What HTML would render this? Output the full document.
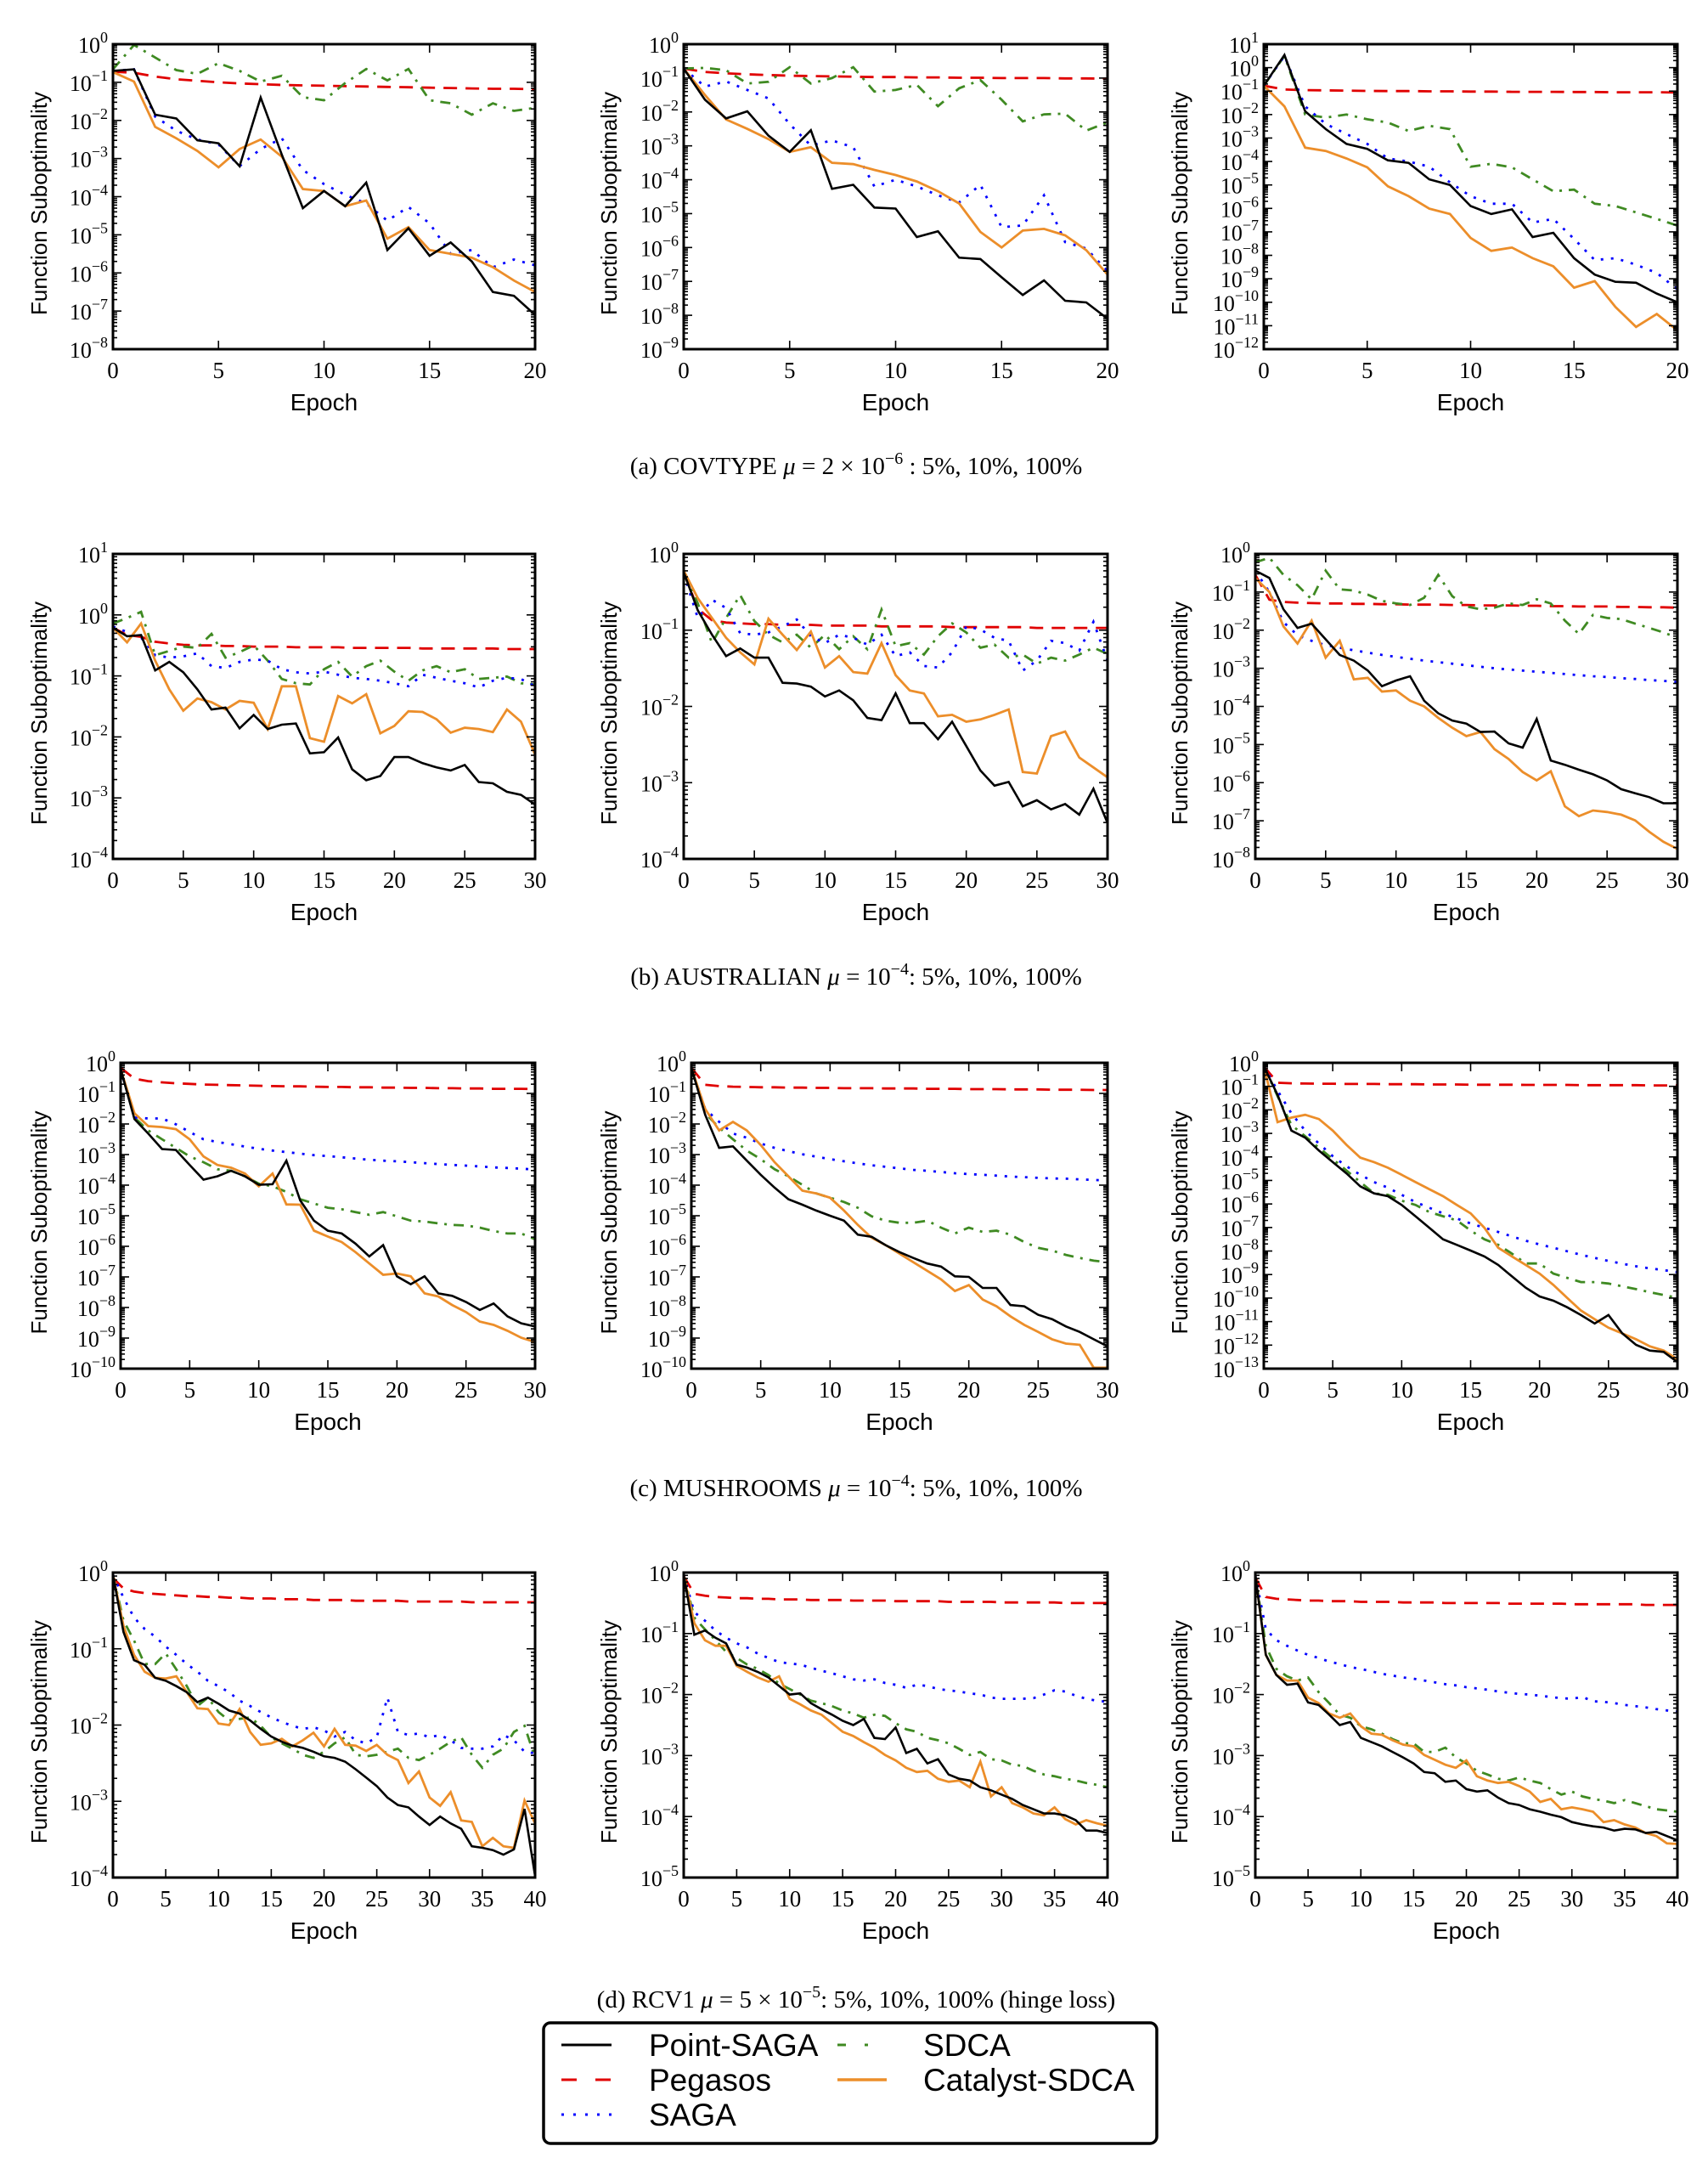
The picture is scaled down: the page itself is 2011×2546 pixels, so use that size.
<!DOCTYPE html>
<html><head><meta charset="utf-8"><style>
html,body{margin:0;padding:0;background:#fff}
svg{display:block}
</style></head><body>
<svg id="fig" xmlns="http://www.w3.org/2000/svg" width="2011" height="2546" viewBox="0 0 2011 2546">
<rect width="2011" height="2546" fill="#fff"/>
<g id="panels"></g>
<g font-family="Liberation Serif, serif" font-size="29" text-anchor="middle">
<text x="1008" y="558">(a) COVTYPE <tspan font-style="italic">μ</tspan> = 2 × 10<tspan font-size="20" dy="-12">−6</tspan><tspan dy="12"> : 5%, 10%, 100%</tspan></text>
<text x="1008" y="1159">(b) AUSTRALIAN <tspan font-style="italic">μ</tspan> = 10<tspan font-size="20" dy="-12">−4</tspan><tspan dy="12">: 5%, 10%, 100%</tspan></text>
<text x="1008" y="1761">(c) MUSHROOMS <tspan font-style="italic">μ</tspan> = 10<tspan font-size="20" dy="-12">−4</tspan><tspan dy="12">: 5%, 10%, 100%</tspan></text>
<text x="1008" y="2363">(d) RCV1 <tspan font-style="italic">μ</tspan> = 5 × 10<tspan font-size="20" dy="-12">−5</tspan><tspan dy="12">: 5%, 10%, 100% (hinge loss)</tspan></text>
</g>
<g>
<rect x="640" y="2381" width="722" height="142" rx="8" fill="#fff" stroke="#000" stroke-width="3.5"/>
<g font-family="Liberation Sans, sans-serif" font-size="37">
<g><line x1="661" y1="2407" x2="720" y2="2407" stroke="#000" stroke-width="3"/><text x="764" y="2420">Point-SAGA</text></g>
<g><line x1="661" y1="2448" x2="720" y2="2448" stroke="#e00000" stroke-width="3" stroke-dasharray="18,22"/><text x="764" y="2461">Pegasos</text></g>
<g><line x1="661" y1="2489" x2="720" y2="2489" stroke="#0000ff" stroke-width="3" stroke-dasharray="3,11"/><text x="764" y="2502">SAGA</text></g>
<g><line x1="986" y1="2407" x2="1044" y2="2407" stroke="#3f8a22" stroke-width="3" stroke-dasharray="10,22,4,30"/><text x="1087" y="2420">SDCA</text></g>
<g><line x1="986" y1="2448" x2="1044" y2="2448" stroke="#ec8e2a" stroke-width="3.5"/><text x="1087" y="2461">Catalyst-SDCA</text></g>
</g></g>
</svg>
<script>
// values are log10 of function suboptimality, indexed by epoch
const a1_point=[-0.7,-0.66,-1.85,-1.95,-2.52,-2.6,-3.2,-1.4,-2.9,-4.3,-3.85,-4.25,-3.63,-5.4,-4.83,-5.55,-5.2,-5.7,-6.5,-6.6,-7.1];
const a1_peg=[-0.72,-0.75,-0.85,-0.92,-0.96,-1.0,-1.03,-1.05,-1.07,-1.08,-1.09,-1.1,-1.11,-1.12,-1.13,-1.14,-1.15,-1.16,-1.17,-1.17,-1.18];
const a1_saga=[-0.7,-0.66,-1.9,-2.27,-2.5,-2.63,-3.2,-2.75,-2.47,-3.3,-3.67,-3.95,-4.18,-4.63,-4.27,-4.7,-5.5,-5.4,-5.85,-5.65,-5.8];
const a1_sdca=[-0.66,-0.02,-0.35,-0.68,-0.78,-0.5,-0.7,-0.98,-0.83,-1.39,-1.47,-1.02,-0.65,-0.95,-0.65,-1.47,-1.55,-1.85,-1.55,-1.75,-1.67];
const a1_cat=[-0.73,-0.98,-2.17,-2.47,-2.8,-3.23,-2.75,-2.5,-2.95,-3.8,-3.85,-4.25,-4.1,-5.1,-4.8,-5.4,-5.5,-5.6,-5.85,-6.2,-6.5];

const a2_point=[-0.72,-1.64,-2.19,-1.98,-2.7,-3.18,-2.54,-4.27,-4.15,-4.82,-4.85,-5.69,-5.52,-6.3,-6.34,-6.88,-7.4,-6.97,-7.57,-7.62,-8.1];
const a2_peg=[-0.72,-0.82,-0.86,-0.89,-0.91,-0.93,-0.94,-0.95,-0.96,-0.97,-0.97,-0.98,-0.98,-0.99,-0.99,-1.0,-1.0,-1.0,-1.01,-1.01,-1.02];
const a2_saga=[-0.72,-1.25,-1.1,-1.35,-1.6,-2.36,-2.99,-2.84,-3.04,-4.2,-4.0,-4.2,-4.46,-4.67,-4.15,-5.4,-5.35,-4.46,-5.84,-6.03,-6.7];
const a2_sdca=[-0.72,-0.7,-0.77,-1.16,-1.11,-0.68,-1.16,-1.0,-0.68,-1.4,-1.35,-1.2,-1.83,-1.3,-1.06,-1.64,-2.28,-2.07,-2.05,-2.55,-2.31];
const a2_cat=[-0.72,-1.5,-2.22,-2.5,-2.8,-3.18,-3.04,-3.5,-3.54,-3.71,-3.86,-4.05,-4.34,-4.7,-5.54,-6.0,-5.5,-5.45,-5.64,-6.08,-6.8];

const a3_point=[-0.77,0.54,-1.86,-2.62,-3.25,-3.46,-3.95,-4.06,-4.76,-5.0,-5.9,-6.24,-6.04,-7.22,-7.04,-8.12,-8.82,-9.13,-9.17,-9.63,-10.0];
const a3_peg=[-0.77,-0.93,-0.96,-0.97,-0.98,-0.99,-1.0,-1.0,-1.01,-1.01,-1.02,-1.02,-1.03,-1.03,-1.03,-1.04,-1.04,-1.05,-1.05,-1.05,-1.06];
const a3_saga=[-0.77,0.5,-1.65,-2.4,-2.83,-3.25,-3.87,-4.0,-4.22,-4.89,-5.48,-5.8,-5.8,-6.6,-6.45,-7.3,-8.2,-8.12,-8.4,-8.75,-9.45];
const a3_sdca=[-0.77,0.5,-2.0,-2.13,-2.0,-2.2,-2.34,-2.7,-2.48,-2.62,-4.22,-4.1,-4.25,-4.76,-5.27,-5.2,-5.8,-5.9,-6.17,-6.45,-6.73];
const a3_cat=[-0.77,-1.65,-3.41,-3.55,-3.87,-4.25,-5.06,-5.48,-6.01,-6.24,-7.26,-7.81,-7.67,-8.12,-8.47,-9.38,-9.1,-10.2,-11.05,-10.5,-11.2];

const b1_point=[-0.21,-0.35,-0.33,-0.91,-0.77,-0.94,-1.22,-1.55,-1.52,-1.86,-1.64,-1.87,-1.8,-1.78,-2.27,-2.25,-2.01,-2.53,-2.71,-2.64,-2.33,-2.33,-2.43,-2.5,-2.55,-2.46,-2.74,-2.76,-2.9,-2.95,-3.11];
const b1_peg=[-0.21,-0.33,-0.36,-0.44,-0.47,-0.49,-0.5,-0.5,-0.51,-0.51,-0.52,-0.52,-0.52,-0.53,-0.53,-0.53,-0.53,-0.54,-0.54,-0.54,-0.54,-0.54,-0.55,-0.55,-0.55,-0.55,-0.55,-0.55,-0.56,-0.56,-0.56];
const b1_saga=[-0.19,-0.28,-0.37,-0.66,-0.7,-0.68,-0.63,-0.84,-0.87,-0.77,-0.73,-0.75,-0.89,-0.94,-0.96,-0.93,-0.98,-1.03,-1.05,-1.08,-1.12,-1.17,-0.98,-1.03,-1.08,-1.12,-1.19,-1.08,-1.03,-1.05,-1.17];
const b1_sdca=[-0.14,-0.05,0.05,-0.66,-0.59,-0.52,-0.54,-0.31,-0.7,-0.61,-0.5,-0.75,-1.05,-1.12,-1.14,-0.89,-0.77,-1.01,-0.84,-0.75,-0.93,-1.08,-0.91,-0.84,-0.94,-0.89,-1.05,-1.03,-1.01,-1.12,-1.14];
const b1_cat=[-0.21,-0.45,-0.14,-0.75,-1.22,-1.57,-1.37,-1.43,-1.55,-1.41,-1.44,-1.87,-1.17,-1.17,-2.02,-2.08,-1.33,-1.45,-1.3,-1.94,-1.82,-1.58,-1.59,-1.71,-1.93,-1.85,-1.87,-1.92,-1.55,-1.75,-2.29];

const b2_point=[-0.24,-0.74,-1.06,-1.34,-1.24,-1.36,-1.36,-1.69,-1.7,-1.74,-1.87,-1.79,-1.92,-2.15,-2.18,-1.83,-2.22,-2.22,-2.43,-2.2,-2.52,-2.84,-3.04,-2.99,-3.31,-3.23,-3.35,-3.28,-3.42,-3.08,-3.53];
const b2_peg=[-0.24,-0.72,-0.87,-0.9,-0.91,-0.92,-0.92,-0.93,-0.93,-0.93,-0.94,-0.94,-0.94,-0.94,-0.95,-0.95,-0.95,-0.95,-0.95,-0.96,-0.96,-0.96,-0.96,-0.96,-0.96,-0.97,-0.97,-0.97,-0.97,-0.97,-0.97];
const b2_saga=[-0.26,-0.84,-0.6,-0.71,-1.04,-1.06,-1.03,-0.95,-0.86,-1.08,-1.17,-1.06,-1.1,-1.19,-1.06,-1.34,-1.29,-1.47,-1.49,-1.29,-0.95,-0.99,-1.1,-1.14,-1.53,-1.4,-1.14,-1.17,-1.27,-0.89,-1.4];
const b2_sdca=[-0.26,-0.65,-1.17,-0.84,-0.54,-0.88,-1.06,-1.16,-1.06,-1.23,-1.06,-1.25,-1.08,-1.25,-0.73,-1.21,-1.17,-1.32,-1.08,-0.91,-1.03,-1.23,-1.19,-1.36,-1.32,-1.44,-1.36,-1.4,-1.32,-1.23,-1.31];
const b2_cat=[-0.22,-0.58,-0.84,-1.1,-1.29,-1.45,-0.85,-1.06,-1.26,-1.02,-1.49,-1.34,-1.55,-1.57,-1.17,-1.59,-1.79,-1.83,-2.13,-2.11,-2.2,-2.17,-2.11,-2.04,-2.86,-2.88,-2.39,-2.33,-2.67,-2.8,-2.93];

const b3_point=[-0.44,-0.63,-1.45,-1.94,-1.83,-2.24,-2.65,-2.8,-3.06,-3.47,-3.32,-3.21,-3.85,-4.18,-4.37,-4.45,-4.67,-4.66,-4.97,-5.08,-4.33,-5.42,-5.53,-5.66,-5.78,-5.94,-6.17,-6.28,-6.38,-6.54,-6.54];
const b3_peg=[-0.55,-1.2,-1.26,-1.28,-1.29,-1.3,-1.3,-1.31,-1.31,-1.32,-1.32,-1.33,-1.33,-1.33,-1.34,-1.34,-1.35,-1.35,-1.35,-1.36,-1.36,-1.37,-1.37,-1.38,-1.38,-1.38,-1.39,-1.39,-1.4,-1.4,-1.41];
const b3_saga=[-0.44,-1.0,-1.79,-2.13,-2.28,-2.39,-2.46,-2.53,-2.59,-2.65,-2.7,-2.75,-2.8,-2.84,-2.88,-2.92,-2.96,-3.0,-3.03,-3.06,-3.09,-3.12,-3.15,-3.18,-3.21,-3.23,-3.26,-3.28,-3.31,-3.33,-3.36];
const b3_sdca=[-0.22,-0.1,-0.55,-0.82,-1.19,-0.44,-0.93,-0.96,-1.07,-1.23,-1.3,-1.34,-1.15,-0.55,-1.11,-1.38,-1.45,-1.41,-1.3,-1.34,-1.19,-1.3,-1.75,-2.1,-1.6,-1.68,-1.71,-1.83,-1.94,-2.06,-2.2];
const b3_cat=[-0.63,-1.0,-1.9,-2.35,-1.75,-2.72,-2.28,-3.29,-3.25,-3.61,-3.58,-3.85,-4.0,-4.3,-4.56,-4.78,-4.67,-5.12,-5.38,-5.72,-5.94,-5.7,-6.62,-6.88,-6.73,-6.77,-6.84,-6.99,-7.29,-7.55,-7.74];

const c1_point=[-0.2,-1.84,-2.31,-2.82,-2.85,-3.34,-3.82,-3.71,-3.53,-3.71,-3.99,-3.97,-3.2,-4.5,-5.16,-5.49,-5.58,-5.91,-6.33,-5.96,-6.98,-7.24,-6.98,-7.54,-7.62,-7.82,-8.08,-7.87,-8.29,-8.52,-8.62];
const c1_peg=[-0.16,-0.52,-0.6,-0.64,-0.67,-0.69,-0.71,-0.72,-0.73,-0.74,-0.75,-0.76,-0.77,-0.77,-0.78,-0.79,-0.79,-0.8,-0.8,-0.81,-0.81,-0.82,-0.82,-0.83,-0.83,-0.84,-0.84,-0.85,-0.85,-0.85,-0.86];
const c1_saga=[-0.2,-1.79,-1.82,-1.82,-2.01,-2.26,-2.5,-2.59,-2.66,-2.74,-2.81,-2.87,-2.92,-2.97,-3.02,-3.05,-3.09,-3.13,-3.17,-3.2,-3.22,-3.25,-3.28,-3.31,-3.34,-3.36,-3.39,-3.42,-3.44,-3.46,-3.49];
const c1_sdca=[-0.2,-1.79,-2.21,-2.5,-2.78,-3.06,-3.25,-3.48,-3.53,-3.71,-3.95,-4.04,-4.22,-4.46,-4.6,-4.74,-4.79,-4.88,-4.97,-4.88,-5.02,-5.16,-5.19,-5.25,-5.3,-5.32,-5.39,-5.5,-5.58,-5.58,-5.77];
const c1_cat=[-0.2,-1.65,-2.07,-2.1,-2.17,-2.5,-3.06,-3.34,-3.43,-3.62,-4.04,-3.62,-4.63,-4.64,-5.49,-5.68,-5.86,-6.19,-6.56,-6.93,-6.89,-6.98,-7.54,-7.64,-7.92,-8.15,-8.46,-8.57,-8.76,-8.99,-9.13];

const c2_point=[-0.16,-1.7,-2.78,-2.73,-3.2,-3.66,-4.08,-4.46,-4.64,-4.83,-5.0,-5.16,-5.62,-5.69,-5.96,-6.19,-6.38,-6.56,-6.66,-6.98,-7.0,-7.36,-7.36,-7.92,-7.96,-8.24,-8.38,-8.62,-8.8,-9.04,-9.27];
const c2_peg=[-0.16,-0.72,-0.76,-0.78,-0.79,-0.8,-0.8,-0.81,-0.81,-0.82,-0.82,-0.83,-0.83,-0.83,-0.84,-0.84,-0.84,-0.85,-0.85,-0.85,-0.86,-0.86,-0.86,-0.87,-0.87,-0.87,-0.88,-0.88,-0.88,-0.89,-0.89];
const c2_saga=[-0.16,-1.51,-1.93,-2.31,-2.45,-2.64,-2.78,-2.89,-2.99,-3.07,-3.15,-3.22,-3.29,-3.35,-3.4,-3.45,-3.5,-3.53,-3.57,-3.61,-3.64,-3.66,-3.69,-3.72,-3.74,-3.76,-3.78,-3.79,-3.81,-3.83,-3.85];
const c2_sdca=[-0.16,-1.65,-2.12,-2.5,-2.87,-3.15,-3.48,-3.71,-3.99,-4.27,-4.41,-4.55,-4.74,-5.02,-5.16,-5.23,-5.23,-5.16,-5.39,-5.58,-5.39,-5.53,-5.49,-5.62,-5.86,-6.05,-6.14,-6.28,-6.38,-6.47,-6.52];
const c2_cat=[-0.16,-1.51,-2.21,-1.93,-2.21,-2.69,-3.25,-3.71,-4.18,-4.27,-4.41,-4.83,-5.3,-5.72,-5.96,-6.24,-6.52,-6.8,-7.08,-7.46,-7.27,-7.74,-7.96,-8.29,-8.57,-8.8,-9.04,-9.18,-9.22,-9.97,-9.97];

const c3_point=[-0.15,-1.36,-2.88,-3.18,-3.73,-4.22,-4.7,-5.25,-5.55,-5.67,-6.04,-6.52,-7.01,-7.5,-7.74,-7.98,-8.23,-8.59,-9.08,-9.56,-9.93,-10.11,-10.39,-10.72,-11.08,-10.72,-11.5,-11.99,-12.23,-12.29,-12.72];
const c3_peg=[-0.15,-0.85,-0.87,-0.88,-0.89,-0.89,-0.9,-0.9,-0.9,-0.91,-0.91,-0.91,-0.92,-0.92,-0.92,-0.93,-0.93,-0.93,-0.93,-0.94,-0.94,-0.94,-0.94,-0.95,-0.95,-0.95,-0.95,-0.95,-0.96,-0.96,-0.96];
const c3_saga=[-0.15,-1.18,-2.15,-2.88,-3.43,-3.97,-4.4,-4.76,-5.07,-5.31,-5.61,-5.92,-6.16,-6.4,-6.62,-6.83,-7.01,-7.19,-7.38,-7.56,-7.72,-7.86,-8.01,-8.16,-8.29,-8.42,-8.54,-8.65,-8.74,-8.81,-8.9];
const c3_sdca=[-0.15,-1.42,-2.64,-3.12,-3.61,-4.09,-4.58,-5.07,-5.55,-5.61,-5.86,-6.04,-6.34,-6.52,-6.7,-7.13,-7.5,-7.74,-8.11,-8.53,-8.53,-8.96,-9.14,-9.32,-9.32,-9.38,-9.5,-9.62,-9.75,-9.87,-9.99];
const c3_cat=[-0.15,-2.52,-2.33,-2.21,-2.39,-2.88,-3.49,-4.03,-4.22,-4.46,-4.76,-5.07,-5.37,-5.67,-6.04,-6.4,-7.01,-7.86,-8.23,-8.59,-8.96,-9.44,-9.99,-10.53,-10.9,-11.26,-11.5,-11.75,-12.05,-12.23,-12.6];

const d1_point=[-0.03,-0.78,-1.15,-1.21,-1.38,-1.42,-1.49,-1.57,-1.7,-1.64,-1.72,-1.81,-1.85,-1.94,-2.05,-2.15,-2.22,-2.27,-2.3,-2.35,-2.41,-2.43,-2.48,-2.58,-2.69,-2.8,-2.95,-3.05,-3.08,-3.2,-3.31,-3.2,-3.29,-3.36,-3.59,-3.61,-3.64,-3.7,-3.63,-3.1,-3.98];
const d1_peg=[-0.07,-0.21,-0.25,-0.27,-0.28,-0.29,-0.3,-0.31,-0.31,-0.32,-0.32,-0.33,-0.33,-0.34,-0.34,-0.34,-0.35,-0.35,-0.35,-0.36,-0.36,-0.36,-0.36,-0.37,-0.37,-0.37,-0.37,-0.37,-0.38,-0.38,-0.38,-0.38,-0.38,-0.38,-0.39,-0.39,-0.39,-0.39,-0.39,-0.39,-0.39];
const d1_saga=[-0.03,-0.33,-0.59,-0.74,-0.84,-0.97,-1.08,-1.2,-1.3,-1.42,-1.49,-1.57,-1.68,-1.75,-1.83,-1.9,-1.96,-2.01,-2.05,-2.03,-2.07,-2.15,-2.09,-2.2,-2.24,-2.16,-1.64,-2.09,-2.13,-2.11,-2.16,-2.13,-2.2,-2.3,-2.31,-2.31,-2.28,-2.13,-2.2,-2.35,-2.37];
const d1_sdca=[-0.03,-0.63,-0.89,-1.2,-1.2,-1.06,-1.27,-1.49,-1.75,-1.64,-1.83,-1.94,-1.92,-1.9,-2.01,-2.16,-2.24,-2.31,-2.39,-2.43,-2.35,-2.24,-2.16,-2.39,-2.41,-2.39,-2.35,-2.31,-2.43,-2.46,-2.39,-2.31,-2.22,-2.16,-2.39,-2.56,-2.39,-2.31,-2.09,-2.01,-2.43];
const d1_cat=[-0.03,-0.7,-1.08,-1.3,-1.38,-1.39,-1.36,-1.57,-1.78,-1.79,-1.98,-2.0,-1.79,-2.09,-2.26,-2.24,-2.18,-2.28,-2.2,-2.1,-2.28,-2.05,-2.26,-2.27,-2.34,-2.26,-2.39,-2.46,-2.76,-2.61,-2.95,-3.06,-2.88,-3.25,-3.27,-3.59,-3.48,-3.59,-3.61,-2.99,-3.29];

const d2_point=[-0.04,-1.02,-0.95,-1.07,-1.16,-1.51,-1.56,-1.63,-1.72,-1.86,-2.0,-1.98,-2.14,-2.24,-2.33,-2.43,-2.5,-2.4,-2.71,-2.73,-2.54,-2.96,-2.89,-3.13,-3.06,-3.31,-3.38,-3.41,-3.52,-3.57,-3.64,-3.71,-3.81,-3.88,-3.95,-3.95,-3.98,-4.06,-4.23,-4.23,-4.27];
const d2_peg=[-0.06,-0.35,-0.38,-0.4,-0.41,-0.42,-0.42,-0.43,-0.43,-0.44,-0.44,-0.44,-0.45,-0.45,-0.45,-0.45,-0.46,-0.46,-0.46,-0.46,-0.47,-0.47,-0.47,-0.47,-0.47,-0.48,-0.48,-0.48,-0.48,-0.48,-0.49,-0.49,-0.49,-0.49,-0.49,-0.49,-0.5,-0.5,-0.5,-0.5,-0.5];
const d2_saga=[-0.04,-0.65,-0.79,-0.95,-1.07,-1.16,-1.23,-1.33,-1.4,-1.47,-1.49,-1.51,-1.56,-1.61,-1.65,-1.7,-1.75,-1.77,-1.75,-1.81,-1.84,-1.89,-1.84,-1.86,-1.91,-1.93,-1.95,-1.98,-2.0,-2.05,-2.07,-2.07,-2.07,-2.06,-2.0,-1.93,-1.95,-2.02,-2.07,-2.1,-2.12];
const d2_sdca=[-0.04,-0.74,-0.93,-1.11,-1.3,-1.4,-1.51,-1.58,-1.68,-1.82,-1.91,-2.0,-2.1,-2.14,-2.19,-2.26,-2.31,-2.38,-2.33,-2.35,-2.47,-2.57,-2.61,-2.71,-2.75,-2.8,-2.89,-2.99,-2.94,-3.06,-3.08,-3.15,-3.17,-3.25,-3.31,-3.34,-3.38,-3.41,-3.45,-3.48,-3.52];
const d2_cat=[-0.04,-0.83,-1.11,-1.2,-1.2,-1.53,-1.63,-1.72,-1.79,-1.7,-2.07,-2.16,-2.26,-2.33,-2.47,-2.61,-2.68,-2.78,-2.87,-2.99,-3.08,-3.2,-3.27,-3.25,-3.38,-3.43,-3.41,-3.52,-3.1,-3.67,-3.52,-3.78,-3.85,-3.95,-3.98,-3.85,-4.04,-4.13,-4.06,-4.11,-4.15];

const d3_point=[-0.04,-1.35,-1.68,-1.84,-1.82,-2.13,-2.17,-2.33,-2.5,-2.45,-2.71,-2.78,-2.85,-2.94,-3.03,-3.13,-3.27,-3.29,-3.43,-3.41,-3.55,-3.59,-3.57,-3.69,-3.78,-3.81,-3.88,-3.92,-3.97,-4.01,-4.09,-4.13,-4.16,-4.18,-4.23,-4.2,-4.21,-4.27,-4.25,-4.32,-4.39];
const d3_peg=[-0.08,-0.4,-0.43,-0.44,-0.45,-0.46,-0.46,-0.47,-0.47,-0.47,-0.48,-0.48,-0.48,-0.48,-0.49,-0.49,-0.49,-0.49,-0.5,-0.5,-0.5,-0.5,-0.5,-0.5,-0.51,-0.51,-0.51,-0.51,-0.51,-0.51,-0.52,-0.52,-0.52,-0.52,-0.52,-0.52,-0.52,-0.53,-0.53,-0.53,-0.53];
const d3_saga=[-0.04,-0.93,-1.11,-1.2,-1.28,-1.35,-1.4,-1.46,-1.5,-1.55,-1.58,-1.62,-1.66,-1.69,-1.72,-1.74,-1.77,-1.8,-1.83,-1.85,-1.88,-1.9,-1.92,-1.95,-1.97,-1.99,-2.0,-2.02,-2.04,-2.06,-2.07,-2.04,-2.11,-2.12,-2.14,-2.17,-2.19,-2.21,-2.24,-2.26,-2.28];
const d3_sdca=[-0.04,-1.2,-1.58,-1.7,-1.77,-1.72,-1.96,-2.14,-2.33,-2.38,-2.52,-2.57,-2.64,-2.73,-2.8,-2.8,-2.94,-2.94,-2.87,-3.03,-3.13,-3.25,-3.31,-3.38,-3.41,-3.36,-3.41,-3.45,-3.55,-3.64,-3.59,-3.67,-3.71,-3.74,-3.78,-3.73,-3.78,-3.83,-3.88,-3.9,-3.92];
const d3_cat=[-0.04,-1.35,-1.68,-1.77,-1.77,-2.05,-2.14,-2.31,-2.38,-2.31,-2.52,-2.64,-2.66,-2.75,-2.82,-2.85,-2.99,-3.07,-3.15,-3.2,-3.08,-3.34,-3.41,-3.45,-3.43,-3.5,-3.59,-3.76,-3.71,-3.88,-3.85,-3.88,-3.92,-4.09,-4.06,-4.13,-4.18,-4.27,-4.32,-4.44,-4.45];

const xTicks20=[0,5,10,15,20], xTicks30=[0,5,10,15,20,25,30], xTicks40=[0,5,10,15,20,25,30,35,40];

const NS='http://www.w3.org/2000/svg';
const STY={
 point:{c:'#000',w:2.6,d:''},
 peg:{c:'#e00000',w:2.8,d:'16,10'},
 saga:{c:'#0000ff',w:2.8,d:'3,9'},
 sdca:{c:'#3f8a22',w:2.8,d:'12,8,3,8'},
 cat:{c:'#ec8e2a',w:2.8,d:''}
};
function el(tag,attrs,parent){const e=document.createElementNS(NS,tag);for(const k in attrs)e.setAttribute(k,attrs[k]);if(parent)parent.appendChild(e);return e;}

const panels=[
 {id:'a1',L:133,R:630,T:52,B:411,ymin:-8,ymax:0,xmax:20,xt:xTicks20,s:{point:a1_point,peg:a1_peg,saga:a1_saga,sdca:a1_sdca,cat:a1_cat},lab:45},
 {id:'a2',L:805,R:1304,T:52,B:411,ymin:-9,ymax:0,xmax:20,xt:xTicks20,s:{point:a2_point,peg:a2_peg,saga:a2_saga,sdca:a2_sdca,cat:a2_cat},lab:716},
 {id:'a3',L:1488,R:1975,T:52,B:411,ymin:-12,ymax:1,xmax:20,xt:xTicks20,s:{point:a3_point,peg:a3_peg,saga:a3_saga,sdca:a3_sdca,cat:a3_cat},lab:1388},
 {id:'b1',L:133,R:630,T:652,B:1011,ymin:-4,ymax:1,xmax:30,xt:xTicks30,s:{point:b1_point,peg:b1_peg,saga:b1_saga,sdca:b1_sdca,cat:b1_cat},lab:45},
 {id:'b2',L:805,R:1304,T:652,B:1011,ymin:-4,ymax:0,xmax:30,xt:xTicks30,s:{point:b2_point,peg:b2_peg,saga:b2_saga,sdca:b2_sdca,cat:b2_cat},lab:716},
 {id:'b3',L:1478,R:1975,T:652,B:1011,ymin:-8,ymax:0,xmax:30,xt:xTicks30,s:{point:b3_point,peg:b3_peg,saga:b3_saga,sdca:b3_sdca,cat:b3_cat},lab:1388},
 {id:'c1',L:142,R:630,T:1251,B:1611,ymin:-10,ymax:0,xmax:30,xt:xTicks30,s:{point:c1_point,peg:c1_peg,saga:c1_saga,sdca:c1_sdca,cat:c1_cat},lab:45},
 {id:'c2',L:814,R:1304,T:1251,B:1611,ymin:-10,ymax:0,xmax:30,xt:xTicks30,s:{point:c2_point,peg:c2_peg,saga:c2_saga,sdca:c2_sdca,cat:c2_cat},lab:716},
 {id:'c3',L:1488,R:1975,T:1251,B:1611,ymin:-13,ymax:0,xmax:30,xt:xTicks30,s:{point:c3_point,peg:c3_peg,saga:c3_saga,sdca:c3_sdca,cat:c3_cat},lab:1388},
 {id:'d1',L:133,R:630,T:1851,B:2210,ymin:-4,ymax:0,xmax:40,xt:xTicks40,s:{point:d1_point,peg:d1_peg,saga:d1_saga,sdca:d1_sdca,cat:d1_cat},lab:45},
 {id:'d2',L:805,R:1304,T:1851,B:2210,ymin:-5,ymax:0,xmax:40,xt:xTicks40,s:{point:d2_point,peg:d2_peg,saga:d2_saga,sdca:d2_sdca,cat:d2_cat},lab:716},
 {id:'d3',L:1478,R:1975,T:1851,B:2210,ymin:-5,ymax:0,xmax:40,xt:xTicks40,s:{point:d3_point,peg:d3_peg,saga:d3_saga,sdca:d3_sdca,cat:d3_cat},lab:1388}
];
const root=document.getElementById('panels');
panels.forEach(p=>{
 const g=el('g',{},root);
 
 
 const xs=v=>p.L+(p.R-p.L)*v/p.xmax;
 const ys=v=>p.B-(p.B-p.T)*(v-p.ymin)/(p.ymax-p.ymin);
 const cid='clip-'+p.id;
 const cp=el('clipPath',{id:cid},g);el('rect',{x:p.L,y:p.T,width:p.R-p.L,height:p.B-p.T},cp);
 const sg=el('g',{'clip-path':'url(#'+cid+')'},g);
 
 
 ['peg','sdca','saga','cat','point'].forEach(k=>{
  const arr=p.s[k],st=STY[k];
  const pts=arr.map((v,i)=>xs(i).toFixed(1)+','+ys(v).toFixed(1)).join(' ');
  const pl=el('polyline',{points:pts,fill:'none',stroke:st.c,'stroke-width':st.w,'stroke-linejoin':'miter'},sg);
  if(st.d)pl.setAttribute('stroke-dasharray',st.d);
  
  
 });
 const tk=el('g',{stroke:'#000','stroke-width':1.6},g);
 
 
 for(let e=p.ymin;e<=p.ymax;e++){
  const y=ys(e);
  el('line',{x1:p.L,y1:y,x2:p.L+10,y2:y},tk);el('line',{x1:p.R,y1:y,x2:p.R-10,y2:y},tk);
  if(e<p.ymax)for(let k=2;k<=9;k++){const yy=ys(e+Math.log10(k));
   el('line',{x1:p.L,y1:yy,x2:p.L+5,y2:yy},tk);el('line',{x1:p.R,y1:yy,x2:p.R-5,y2:yy},tk);}
 }
 p.xt.forEach(v=>{const x=xs(v);el('line',{x1:x,y1:p.B,x2:x,y2:p.B-10},tk);el('line',{x1:x,y1:p.T,x2:x,y2:p.T+10},tk);});
 const fr=el('rect',{x:p.L,y:p.T,width:p.R-p.L,height:p.B-p.T,fill:'none',stroke:'#000','stroke-width':3},g);
 
 
 const yl=el('g',{'font-family':'Liberation Serif, serif','font-size':26,'text-anchor':'end'},g);
 
 
 for(let e=p.ymin;e<=p.ymax;e++){
  const t=el('text',{x:p.L-6,y:ys(e)+10},yl);
  t.appendChild(document.createTextNode('10'));
  const sp=el('tspan',{'font-size':18,dy:-12},t);
  sp.textContent=(e<0?'−':'')+Math.abs(e);
 }
 const xl=el('g',{'font-family':'Liberation Serif, serif','font-size':27,'text-anchor':'middle'},g);
 
 
 p.xt.forEach(v=>{const t=el('text',{x:xs(v),y:p.B+34},xl);t.textContent=v;});
 const xt=el('text',{x:(p.L+p.R)/2,y:p.B+72,'font-family':'Liberation Sans, sans-serif','font-size':28,'text-anchor':'middle'},g);
 xt.textContent='Epoch';
 
 
 const cy=(p.T+p.B)/2+8;
 const yt=el('text',{x:p.lab+10,y:cy,'font-family':'Liberation Sans, sans-serif','font-size':26,'text-anchor':'middle',transform:'rotate(-90 '+(p.lab+10)+' '+cy+')'},g);
 yt.textContent='Function Suboptimality';
 
 
});
</script>
</body></html>
